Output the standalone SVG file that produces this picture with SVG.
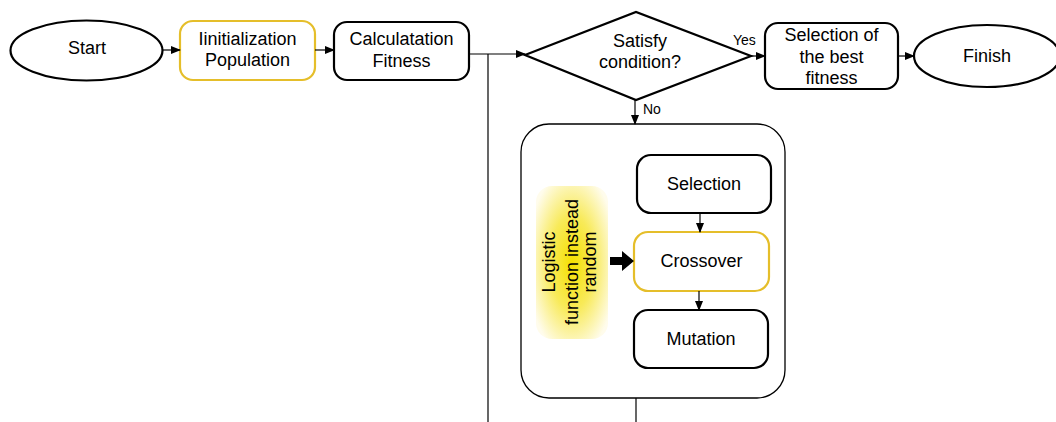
<svg xmlns="http://www.w3.org/2000/svg" width="1056" height="422" viewBox="0 0 1056 422">
<style>
.t{font-family:"Liberation Sans",Arial,sans-serif;font-size:18px;fill:#000;text-anchor:middle}
.s{font-family:"Liberation Sans",Arial,sans-serif;font-size:14px;fill:#000}
.b{fill:#fff;stroke:#000;stroke-width:2.2}
.g{fill:#fff;stroke:#E5BE2A;stroke-width:2.2}
.c{fill:none;stroke:#000;stroke-width:1.2}
</style>
<defs>
<marker id="ar" markerWidth="10" markerHeight="8" refX="9" refY="4" orient="auto" markerUnits="userSpaceOnUse">
<path d="M0,0 L10,4 L0,8 z" fill="#000"/>
</marker>
<radialGradient id="yg" cx="50%" cy="50%" r="62%">
<stop offset="0" stop-color="#F5E000"/>
<stop offset="0.5" stop-color="#F8EA5A"/>
<stop offset="1" stop-color="#FFFCEC"/>
</radialGradient>
</defs>
<g id="start"><ellipse class="b" cx="86.5" cy="50.5" rx="76" ry="30"/><text class="t" x="87" y="54">Start</text></g>
<g id="init"><rect class="g" x="180" y="21" width="135" height="59" rx="13"/><text class="t" x="247.5" y="45">Iinitialization</text><text class="t" x="247.5" y="66">Population</text></g>
<g id="calc"><rect class="b" x="334" y="22" width="135" height="58" rx="13"/><text class="t" x="401.5" y="45">Calculatation</text><text class="t" x="401.5" y="67">Fitness</text></g>
<g id="cond"><polygon class="b" points="525,55 636,12 751,56 636,100"/><text class="t" x="640" y="47">Satisfy</text><text class="t" x="640" y="68">condition?</text></g>
<g id="best"><rect class="b" x="765" y="23" width="133" height="66" rx="13"/><text class="t" x="831.5" y="41">Selection of</text><text class="t" x="831.5" y="63">the best</text><text class="t" x="831.5" y="84">fitness</text></g>
<g id="finish"><ellipse class="b" cx="987" cy="56" rx="73" ry="31"/><text class="t" x="987" y="62">Finish</text></g>
<g id="loop"><rect x="521" y="124" width="264" height="274" rx="28" fill="#fff" stroke="#000" stroke-width="1.3"/></g>
<g id="selection"><rect class="b" x="637" y="155" width="134" height="58" rx="14"/><text class="t" x="704" y="190">Selection</text></g>
<g id="crossover"><rect class="g" x="634" y="232" width="135" height="59" rx="14"/><text class="t" x="701.5" y="267">Crossover</text></g>
<g id="mutation"><rect class="b" x="634" y="310" width="134" height="58" rx="14"/><text class="t" x="701" y="345">Mutation</text></g>
<g id="logistic"><rect x="536" y="186" width="72" height="153" rx="16" fill="url(#yg)"/>
<g transform="translate(572,262) rotate(-90)"><text class="t" x="0" y="-17.5">Logistic</text><text class="t" x="0" y="5.5">function instead</text><text class="t" x="0" y="23.5">random</text></g></g>
<g id="connectors">
<line class="c" x1="163" y1="50" x2="180" y2="50" marker-end="url(#ar)"/>
<line class="c" x1="315" y1="50" x2="334" y2="50" marker-end="url(#ar)"/>
<line class="c" x1="469" y1="54" x2="525" y2="54" marker-end="url(#ar)"/>
<line class="c" x1="488" y1="54" x2="488" y2="422"/>
<line class="c" x1="636" y1="398" x2="636" y2="422"/>
<line class="c" x1="751" y1="56" x2="765" y2="56" marker-end="url(#ar)"/>
<line class="c" x1="898" y1="56" x2="914" y2="56" marker-end="url(#ar)"/>
<line class="c" x1="635" y1="100" x2="635" y2="124" marker-end="url(#ar)"/>
<line class="c" x1="700" y1="213" x2="700" y2="232" marker-end="url(#ar)"/>
<line class="c" x1="699" y1="291" x2="699" y2="310" marker-end="url(#ar)"/>
<path d="M610,257 L622,257 L622,251 L634,261 L622,271 L622,265 L610,265 z" fill="#000"/>
<text class="s" x="733" y="45">Yes</text>
<text class="s" x="643" y="114">No</text>
</g>
</svg>
